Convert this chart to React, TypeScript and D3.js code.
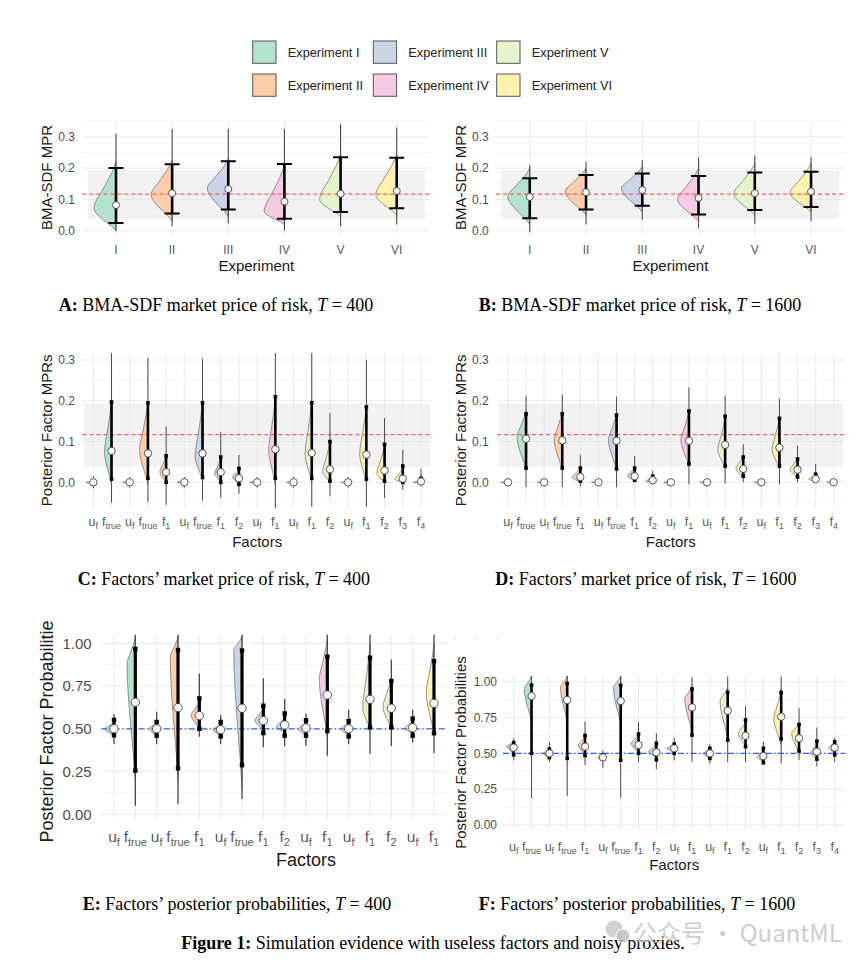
import * as d3 from "d3"
import { useEffect, useRef } from "react"

const pastel2 = ["#B3E2CD", "#FDCDAC", "#CBD5E8", "#F4CAE4", "#E6F5C9", "#FFF2AE"]
const experiments = ["I", "II", "III", "IV", "V", "VI"]
const legendLabels = experiments.map(e => `Experiment ${e}`)
const factorLabels = ["u_f", "f_true", "u_f", "f_true", "f_1", "u_f", "f_true", "f_1", "f_2", "u_f", "f_1", "u_f", "f_1", "f_2", "u_f", "f_1", "f_2", "f_3", "f_4"]
const factorExperiment = [0, 0, 1, 1, 1, 2, 2, 2, 2, 3, 3, 4, 4, 4, 5, 5, 5, 5, 5]
const trueMpr = 0.117
const mprBand = [0.038, 0.194]
const priorProb = 0.5

// [whisker lo, interval lo, median, interval hi, whisker hi]
const sdfStats400 = [
  [0.0, 0.025, 0.082, 0.2, 0.31],
  [0.015, 0.055, 0.12, 0.212, 0.325],
  [0.025, 0.068, 0.133, 0.222, 0.325],
  [0.0, 0.038, 0.093, 0.213, 0.325],
  [0.015, 0.06, 0.118, 0.235, 0.34],
  [0.02, 0.072, 0.127, 0.233, 0.33],
]
// [density bottom, mode, density top, relative peak]
const sdfShape400 = [
  [0.0, 0.072, 0.22, 1.0],
  [0.03, 0.115, 0.225, 0.95],
  [0.045, 0.135, 0.23, 0.95],
  [0.02, 0.062, 0.21, 0.92],
  [0.045, 0.1, 0.245, 0.95],
  [0.05, 0.115, 0.245, 0.95],
]
const sdfStats1600 = [
  [-0.005, 0.04, 0.108, 0.168, 0.21],
  [0.02, 0.068, 0.123, 0.178, 0.22],
  [0.035, 0.08, 0.13, 0.183, 0.225],
  [0.008, 0.052, 0.105, 0.175, 0.235],
  [0.022, 0.066, 0.12, 0.186, 0.24],
  [0.032, 0.076, 0.125, 0.188, 0.235],
]
const sdfShape1600 = [
  [0.02, 0.11, 0.2, 1.0],
  [0.05, 0.125, 0.2, 0.95],
  [0.06, 0.135, 0.205, 0.95],
  [0.03, 0.1, 0.2, 0.95],
  [0.05, 0.118, 0.215, 0.95],
  [0.06, 0.12, 0.215, 0.95],
]

const mprStats400 = [
  [-0.015, 0, 0, 0, 0.015],
  [-0.05, 0.008, 0.077, 0.197, 0.318],
  [-0.013, 0, 0, 0, 0.013],
  [-0.048, 0.01, 0.071, 0.195, 0.305],
  [-0.055, 0.0, 0.025, 0.065, 0.137],
  [-0.013, 0, 0, 0, 0.013],
  [-0.045, 0.012, 0.071, 0.195, 0.303],
  [-0.038, 0.0, 0.025, 0.062, 0.123],
  [-0.028, -0.005, 0.01, 0.034, 0.067],
  [-0.013, 0, 0, 0, 0.013],
  [-0.07, 0.01, 0.081, 0.21, 0.318],
  [-0.013, 0, 0, 0, 0.013],
  [-0.06, 0.01, 0.072, 0.195, 0.318],
  [-0.034, 0.003, 0.032, 0.1, 0.17],
  [-0.013, 0, 0, 0, 0.013],
  [-0.06, 0.008, 0.068, 0.185, 0.3],
  [-0.038, 0.003, 0.029, 0.093, 0.158],
  [-0.018, 0.0, 0.009, 0.04, 0.08],
  [-0.01, 0.0, 0.002, 0.01, 0.033],
]
const mprShape400 = [
  [-0.003, 0, 0.003, 0.85],
  [-0.005, 0.075, 0.2, 0.84],
  [-0.003, 0, 0.003, 0.85],
  [-0.005, 0.08, 0.195, 1.0],
  [0.0, 0.026, 0.065, 0.76],
  [-0.003, 0, 0.003, 0.85],
  [0.005, 0.063, 0.2, 0.88],
  [0.0, 0.022, 0.06, 0.72],
  [-0.003, 0.013, 0.03, 0.8],
  [-0.003, 0, 0.003, 0.85],
  [-0.005, 0.08, 0.21, 0.8],
  [-0.003, 0, 0.003, 0.85],
  [0.0, 0.07, 0.2, 0.8],
  [0.0, 0.026, 0.1, 0.88],
  [-0.003, 0, 0.003, 0.85],
  [0.0, 0.07, 0.19, 0.8],
  [0.0, 0.022, 0.09, 0.93],
  [0.0, 0.007, 0.035, 0.93],
  [-0.003, 0, 0.005, 0.93],
]
const mprStats1600 = [
  [-0.01, 0, 0, 0, 0.01],
  [-0.012, 0.035, 0.107, 0.168, 0.213],
  [-0.01, 0, 0, 0, 0.01],
  [-0.012, 0.035, 0.103, 0.168, 0.215],
  [-0.01, 0.003, 0.013, 0.035, 0.067],
  [-0.01, 0, 0, 0, 0.01],
  [-0.012, 0.033, 0.102, 0.165, 0.21],
  [0.0, 0.005, 0.015, 0.035, 0.065],
  [0.0, 0.0, 0.005, 0.015, 0.028],
  [-0.01, 0, 0, 0, 0.01],
  [-0.005, 0.045, 0.102, 0.175, 0.233],
  [-0.01, 0, 0, 0, 0.01],
  [-0.003, 0.04, 0.092, 0.162, 0.213],
  [0.0, 0.015, 0.033, 0.062, 0.093],
  [-0.01, 0, 0, 0, 0.01],
  [-0.005, 0.04, 0.085, 0.157, 0.205],
  [0.0, 0.013, 0.031, 0.057, 0.09],
  [0.005, 0.005, 0.008, 0.02, 0.045],
  [-0.003, 0, 0, 0, 0.003],
]
const mprShape1600 = [
  [-0.003, 0, 0.003, 0.78],
  [0.03, 0.112, 0.175, 1.0],
  [-0.003, 0, 0.003, 0.78],
  [0.03, 0.104, 0.175, 0.89],
  [0.0, 0.012, 0.035, 0.89],
  [-0.003, 0, 0.003, 0.78],
  [0.03, 0.104, 0.17, 0.89],
  [0.003, 0.016, 0.035, 0.78],
  [0.0, 0.002, 0.015, 0.78],
  [-0.003, 0, 0.003, 0.78],
  [0.04, 0.104, 0.175, 0.89],
  [-0.003, 0, 0.003, 0.78],
  [0.035, 0.08, 0.16, 0.81],
  [0.01, 0.034, 0.065, 0.81],
  [-0.003, 0, 0.003, 0.78],
  [0.035, 0.08, 0.16, 0.81],
  [0.01, 0.032, 0.06, 0.81],
  [0.003, 0.007, 0.02, 0.78],
  [-0.002, 0, 0.003, 0.78],
]

const probStats400 = [
  [0.411, 0.462, 0.5, 0.552, 0.585],
  [0.05, 0.255, 0.655, 0.967, 1.05],
  [0.41, 0.46, 0.5, 0.54, 0.6],
  [0.06, 0.269, 0.624, 0.961, 1.05],
  [0.454, 0.5, 0.577, 0.678, 0.824],
  [0.41, 0.455, 0.495, 0.54, 0.58],
  [0.09, 0.287, 0.62, 0.958, 1.05],
  [0.392, 0.475, 0.548, 0.635, 0.795],
  [0.4, 0.46, 0.522, 0.59, 0.674],
  [0.4, 0.46, 0.505, 0.55, 0.59],
  [0.343, 0.487, 0.698, 0.922, 1.05],
  [0.41, 0.455, 0.5, 0.545, 0.61],
  [0.353, 0.509, 0.672, 0.916, 1.05],
  [0.4, 0.509, 0.62, 0.78, 0.906],
  [0.42, 0.46, 0.506, 0.56, 0.61],
  [0.357, 0.474, 0.649, 0.896, 1.05],
  [0.4, 0.5, 0.6, 0.72, 0.85],
  [0.4, 0.46, 0.52, 0.6, 0.7],
  [0.42, 0.47, 0.52, 0.57, 0.62],
]
const probShape400 = [
  [0.46, 0.5, 0.54, 1.0],
  [0.2, 0.88, 1.04, 0.92],
  [0.46, 0.5, 0.54, 0.86],
  [0.2, 0.92, 1.04, 0.86],
  [0.5, 0.58, 0.66, 0.92],
  [0.46, 0.495, 0.53, 0.86],
  [0.15, 0.96, 1.04, 0.92],
  [0.49, 0.55, 0.62, 0.92],
  [0.48, 0.51, 0.57, 0.92],
  [0.46, 0.5, 0.54, 0.86],
  [0.45, 0.79, 1.03, 0.89],
  [0.46, 0.5, 0.54, 0.86],
  [0.5, 0.62, 1.0, 0.81],
  [0.5, 0.63, 0.8, 0.93],
  [0.47, 0.505, 0.55, 0.86],
  [0.47, 0.71, 1.0, 0.86],
  [0.5, 0.6, 0.75, 0.9],
  [0.47, 0.52, 0.6, 0.9],
  [0.48, 0.52, 0.58, 0.9],
]
const probStats1600 = [
  [0.45, 0.49, 0.54, 0.575, 0.605],
  [0.186, 0.5, 0.9, 0.977, 1.04],
  [0.44, 0.47, 0.5, 0.53, 0.58],
  [0.205, 0.465, 0.872, 0.988, 1.04],
  [0.419, 0.485, 0.547, 0.625, 0.721],
  [0.4, 0.46, 0.472, 0.49, 0.52],
  [0.19, 0.453, 0.865, 0.975, 1.04],
  [0.44, 0.5, 0.558, 0.635, 0.72],
  [0.39, 0.455, 0.507, 0.57, 0.64],
  [0.45, 0.5, 0.535, 0.565, 0.61],
  [0.442, 0.628, 0.821, 0.949, 1.03],
  [0.43, 0.465, 0.5, 0.535, 0.565],
  [0.44, 0.593, 0.798, 0.926, 1.035],
  [0.44, 0.547, 0.623, 0.733, 0.83],
  [0.42, 0.435, 0.481, 0.535, 0.58],
  [0.43, 0.6, 0.756, 0.925, 1.035],
  [0.453, 0.516, 0.605, 0.702, 0.814],
  [0.41, 0.46, 0.512, 0.585, 0.68],
  [0.44, 0.49, 0.54, 0.58, 0.61],
]
const probShape1600 = [
  [0.5, 0.55, 0.58, 0.87],
  [0.72, 0.95, 1.04, 0.95],
  [0.47, 0.5, 0.53, 0.78],
  [0.72, 0.96, 1.04, 0.87],
  [0.49, 0.555, 0.62, 0.87],
  [0.455, 0.47, 0.49, 0.65],
  [0.7, 0.96, 1.04, 0.95],
  [0.5, 0.57, 0.63, 0.95],
  [0.47, 0.51, 0.57, 1.0],
  [0.51, 0.535, 0.56, 1.0],
  [0.65, 0.88, 0.97, 0.95],
  [0.47, 0.5, 0.53, 0.87],
  [0.6, 0.87, 0.96, 1.0],
  [0.55, 0.64, 0.72, 0.95],
  [0.44, 0.475, 0.53, 0.78],
  [0.56, 0.74, 0.95, 0.95],
  [0.5, 0.64, 0.71, 0.95],
  [0.47, 0.5, 0.57, 0.87],
  [0.5, 0.54, 0.58, 0.78],
]

const SANS = "Liberation Sans, Arial, Helvetica, sans-serif"
const SERIF = "Liberation Serif, Times New Roman, serif"

interface Panel {
  id: string
  labels: string[]
  groups: number[]
  stats: number[][]
  shapes: number[][]
  x0: number
  x1: number
  yDomain: [number, number]
  yRange: [number, number]
  yTicks: number[]
  yMinor: number[]
  fmt: string
  refValue: number
  refKind: "red" | "blue"
  band: boolean
  maxW: number
  capStyle: boolean
  tickSize: number
  subSize: number
  titleSize: number
  yTickX: number
  yTitleX: number
  xTickDy: number
  xTitleDy: number
  r: number
  barW: number
  sq: number
  thinW: number
  xTitle: string
  yTitle: string
  outerClip?: string
  visibleRight?: number
}

const baseA = {
  labels: experiments, groups: d3.range(6), yDomain: [-0.014, 0.354] as [number, number],
  yRange: [235.1, 119.9] as [number, number], yTicks: [0, 0.1, 0.2, 0.3], yMinor: [0.05, 0.15, 0.25, 0.35],
  fmt: ".1f", refValue: trueMpr, refKind: "red" as const, band: true, maxW: 22, capStyle: true,
  tickSize: 12, subSize: 0, titleSize: 15, xTickDy: 18.5, xTitleDy: 36, r: 3.5, barW: 2.6, sq: 0, thinW: 1.1,
  xTitle: "Experiment", yTitle: "BMA-SDF MPR",
}
const baseC = {
  labels: factorLabels, groups: factorExperiment, yDomain: [-0.063, 0.318] as [number, number],
  yRange: [508, 352.7] as [number, number], yTicks: [0, 0.1, 0.2, 0.3], yMinor: [-0.05, 0.05, 0.15, 0.25],
  fmt: ".1f", refValue: trueMpr, refKind: "red" as const, band: true, maxW: 8.3, capStyle: false,
  tickSize: 12.5, subSize: 9, titleSize: 15, xTickDy: 17.5, xTitleDy: 38.5, r: 3.7, barW: 2.6, sq: 3.6, thinW: 1,
  xTitle: "Factors", yTitle: "Posterior Factor MPRs",
}

const panels: Panel[] = [
  { ...baseA, id: "A", stats: sdfStats400, shapes: sdfShape400, x0: 82.3, x1: 430.4, yTickX: 75, yTitleX: 47 },
  { ...baseA, id: "B", stats: sdfStats1600, shapes: sdfShape1600, x0: 496, x1: 844.8, yTickX: 488.7, yTitleX: 460.3 },
  { ...baseC, id: "C", stats: mprStats400, shapes: mprShape400, x0: 82.4, x1: 431.9, yTickX: 75, yTitleX: 47 },
  { ...baseC, id: "D", stats: mprStats1600, shapes: mprShape1600, x0: 497.1, x1: 844.6, maxW: 9, yTickX: 488.7, yTitleX: 460.3 },
  {
    id: "E", labels: factorLabels, groups: factorExperiment, stats: probStats400, shapes: probShape400,
    x0: 101.2, x1: 510.8, yDomain: [-0.033, 1.054], yRange: [819.9, 634.1],
    yTicks: [0, 0.25, 0.5, 0.75, 1], yMinor: [0.125, 0.375, 0.625, 0.875], fmt: ".2f",
    refValue: priorProb, refKind: "blue", band: false, maxW: 9, capStyle: false,
    tickSize: 15.5, subSize: 11, titleSize: 18, yTickX: 91.7, yTitleX: 47, xTickDy: 22, xTitleDy: 46.5,
    r: 4.2, barW: 3.2, sq: 4.4, thinW: 1.3, xTitle: "Factors", yTitle: "Posterior Factor Probabilities",
    outerClip: "clipE", visibleRight: 446,
  },
  {
    id: "F", labels: factorLabels, groups: factorExperiment, stats: probStats1600, shapes: probShape1600,
    x0: 503, x1: 845.4, yDomain: [-0.035, 1.047], yRange: [830, 675],
    yTicks: [0, 0.25, 0.5, 0.75, 1], yMinor: [0.125, 0.375, 0.625, 0.875], fmt: ".2f",
    refValue: priorProb, refKind: "blue", band: false, maxW: 7.7, capStyle: false,
    tickSize: 12.5, subSize: 9, titleSize: 15, yTickX: 497, yTitleX: 460.3, xTickDy: 21, xTitleDy: 39.5,
    r: 3.7, barW: 2.6, sq: 3.6, thinW: 1, xTitle: "Factors", yTitle: "Posterior Factor Probabilities",
  },
]

const captions = [
  { tag: "A:", text: " BMA-SDF market price of risk, ", n: "400", x: 216, y: 311 },
  { tag: "B:", text: " BMA-SDF market price of risk, ", n: "1600", x: 640, y: 311 },
  { tag: "C:", text: " Factors\u2019 market price of risk, ", n: "400", x: 224, y: 585 },
  { tag: "D:", text: " Factors\u2019 market price of risk, ", n: "1600", x: 646, y: 585 },
  { tag: "E:", text: " Factors\u2019 posterior probabilities, ", n: "400", x: 237, y: 910 },
  { tag: "F:", text: " Factors\u2019 posterior probabilities, ", n: "1600", x: 637, y: 910 },
]

type Sel = d3.Selection<SVGSVGElement, unknown, null, undefined>

function drawPanel(svg: Sel, p: Panel) {
  const n = p.labels.length
  const x = d3.scalePoint<number>().domain(d3.range(n)).range([p.x0, p.x1]).padding(0.6)
  const step = x.step()
  const y = d3.scaleLinear().domain(p.yDomain).range(p.yRange)
  const [yb, yt] = p.yRange
  const cx = (i: number) => x(i) as number

  const g = svg.append("g")
  if (p.outerClip) g.attr("clip-path", `url(#${p.outerClip})`)

  const clipId = `plot-${p.id}`
  svg.select("defs").append("clipPath").attr("id", clipId)
    .append("rect").attr("x", p.x0).attr("y", yt).attr("width", p.x1 - p.x0).attr("height", yb - yt)

  // grid
  g.selectAll(".minor").data(p.yMinor).join("line")
    .attr("x1", p.x0).attr("x2", p.x1).attr("y1", d => y(d)).attr("y2", d => y(d))
    .attr("stroke", "#f2f2f2").attr("stroke-width", 0.7)
  g.selectAll(".major").data(p.yTicks).join("line")
    .attr("x1", p.x0).attr("x2", p.x1).attr("y1", d => y(d)).attr("y2", d => y(d))
    .attr("stroke", "#ebebeb").attr("stroke-width", 1.1)
  g.selectAll(".vgrid").data(d3.range(n)).join("line")
    .attr("x1", cx).attr("x2", cx).attr("y1", yb).attr("y2", yt)
    .attr("stroke", "#ebebeb").attr("stroke-width", 1.1)

  if (p.band) {
    g.append("rect")
      .attr("x", cx(0) - step / 2).attr("width", cx(n - 1) - cx(0) + step)
      .attr("y", y(mprBand[1])).attr("height", y(mprBand[0]) - y(mprBand[1]))
      .attr("fill", "#e6e6e6").attr("opacity", 0.5)
  }

  const plot = g.append("g").attr("clip-path", `url(#${clipId})`)

  // half violins on the left of each category
  const line = d3.line<[number, number]>().x(d => d[0]).y(d => d[1]).curve(d3.curveMonotoneY)
  plot.selectAll(".violin").data(p.shapes).join("path")
    .attr("d", (s, i) => {
      const [b, m, t, peak] = s
      const w = peak * p.maxW
      const c = cx(i)
      const pts: [number, number][] = [
        [c, y(t)],
        [c - 0.2 * w, y(m + 0.75 * (t - m))],
        [c - 0.6 * w, y(m + 0.4 * (t - m))],
        [c - w, y(m)],
        [c - 0.6 * w, y(b + 0.5 * (m - b))],
        [c - 0.2 * w, y(b + 0.2 * (m - b))],
        [c, y(b)],
      ]
      return line(pts) + "Z"
    })
    .attr("fill", (_s, i) => pastel2[p.groups[i]])
    .attr("stroke", "#555").attr("stroke-width", 0.6)

  // reference line
  const ref = plot.append("line")
    .attr("x1", p.x0).attr("x2", p.x1).attr("y1", y(p.refValue)).attr("y2", y(p.refValue))
  if (p.refKind === "red") {
    ref.attr("stroke", "#ff5a5a").attr("stroke-width", 1.2).attr("stroke-dasharray", "4,3")
  } else {
    ref.attr("stroke", "#2a62ff").attr("stroke-width", 1.2).attr("stroke-dasharray", "6,2.5,1.5,2.5")
  }

  // whiskers
  plot.selectAll(".thin").data(p.stats).join("line")
    .attr("x1", (_d, i) => cx(i)).attr("x2", (_d, i) => cx(i))
    .attr("y1", d => y(d[0])).attr("y2", d => y(d[4]))
    .attr("stroke", "#4a4a4a").attr("stroke-width", p.thinW)

  // intervals
  plot.selectAll(".thick").data(p.stats).join("line")
    .attr("x1", (_d, i) => cx(i)).attr("x2", (_d, i) => cx(i))
    .attr("y1", d => y(d[1])).attr("y2", d => y(d[3]))
    .attr("stroke", "#000").attr("stroke-width", p.barW)

  if (p.capStyle) {
    const caps = p.stats.flatMap((d, i) => [{ i, v: d[1] }, { i, v: d[3] }])
    plot.selectAll(".cap").data(caps).join("line")
      .attr("x1", d => cx(d.i) - 7.5).attr("x2", d => cx(d.i) + 7.5)
      .attr("y1", d => y(d.v)).attr("y2", d => y(d.v))
      .attr("stroke", "#000").attr("stroke-width", 2)
  } else {
    const ends = p.stats.flatMap((d, i) => (d[1] === d[3] ? [] : [{ i, v: d[1] }, { i, v: d[3] }]))
    plot.selectAll(".end").data(ends).join("rect")
      .attr("x", d => cx(d.i) - p.sq / 2).attr("y", d => y(d.v) - p.sq / 2)
      .attr("width", p.sq).attr("height", p.sq).attr("fill", "#000")
  }

  plot.selectAll(".med").data(p.stats).join("circle")
    .attr("cx", (_d, i) => cx(i)).attr("cy", d => y(d[2])).attr("r", p.r)
    .attr("fill", "#fff").attr("stroke", "#333").attr("stroke-width", 0.8)

  // y axis labels
  g.selectAll(".ytick").data(p.yTicks).join("text")
    .attr("x", p.yTickX).attr("y", d => y(d)).attr("dy", "0.35em")
    .attr("text-anchor", "end").attr("font-family", SANS).attr("font-size", p.tickSize - (p.subSize ? 0.5 : 0))
    .attr("fill", "#4d4d4d").text(d => d3.format(p.fmt)(d))

  // x axis labels (with subscripts); labels under the covering panel are not drawn
  const shown = d3.range(n).filter(i => p.visibleRight === undefined || cx(i) < p.visibleRight)
  const xl = g.selectAll(".xtick").data(shown).join("text")
    .attr("x", i => cx(i)).attr("y", yb + p.xTickDy)
    .attr("text-anchor", "middle").attr("font-family", SANS).attr("font-size", p.tickSize)
    .attr("fill", "#5a5a5a")
  xl.each(function (i) {
    const t = d3.select(this)
    const [base, sub] = p.labels[i].split("_")
    t.append("tspan").text(base)
    if (sub) {
      t.append("tspan").attr("dy", p.subSize * 0.38).attr("font-size", p.subSize).text(sub)
    }
  })

  g.append("text")
    .attr("x", (p.x0 + p.x1) / 2).attr("y", yb + p.xTitleDy)
    .attr("text-anchor", "middle").attr("font-family", SANS).attr("font-size", p.titleSize)
    .attr("fill", "#1a1a1a").text(p.xTitle)

  g.append("text")
    .attr("transform", `translate(${p.yTitleX},${(yb + yt) / 2}) rotate(-90)`)
    .attr("dy", "0.35em").attr("text-anchor", "middle").attr("font-family", SANS)
    .attr("font-size", p.titleSize).attr("fill", "#1a1a1a").text(p.yTitle)
}

const App = () => {
  const svgRef = useRef<SVGSVGElement | null>(null)

  useEffect(() => {
    if (!svgRef.current) return
    document.body.style.margin = "0"
    const svg = d3.select(svgRef.current)
    svg.selectAll("*").remove()
    svg.append("rect").attr("width", 864).attr("height", 966).attr("fill", "#fff")

    const defs = svg.append("defs")
    // panel E is partly covered by panel F in the figure
    const ce = defs.append("clipPath").attr("id", "clipE")
    ce.append("rect").attr("x", 0).attr("y", 621).attr("width", 446).attr("height", 260)
    ce.append("rect").attr("x", 446).attr("y", 621).attr("width", 80).attr("height", 20)

    // legend
    const leg = svg.append("g").selectAll("g").data(legendLabels).join("g")
      .attr("transform", (_d, i) => `translate(${[252.7, 373.3, 496.7][Math.floor(i / 2)]},${i % 2 ? 74 : 41})`)
    leg.append("rect").attr("width", 23.3).attr("height", 22.3)
      .attr("fill", (_d, i) => pastel2[i]).attr("stroke", "#555").attr("stroke-width", 1)
    leg.append("text").attr("x", 35).attr("y", 11.2).attr("dy", "0.35em")
      .attr("font-family", SANS).attr("font-size", 12.8).attr("fill", "#222").text(d => d)

    panels.forEach(p => drawPanel(svg, p))

    // captions
    const cap = svg.append("g").selectAll("text").data(captions).join("text")
      .attr("x", d => d.x).attr("y", d => d.y).attr("text-anchor", "middle")
      .attr("font-family", SERIF).attr("font-size", 18).attr("fill", "#000")
      .style("white-space", "pre")
    cap.append("tspan").attr("font-weight", "bold").text(d => d.tag)
    cap.append("tspan").text(d => d.text)
    cap.append("tspan").attr("font-style", "italic").text("T")
    cap.append("tspan").text(d => ` = ${d.n}`)

    const fig = svg.append("text").attr("x", 433).attr("y", 949).attr("text-anchor", "middle")
      .attr("font-family", SERIF).attr("font-size", 18).style("white-space", "pre")
    fig.append("tspan").attr("font-weight", "bold").text("Figure 1:")
    fig.append("tspan").text(" Simulation evidence with useless factors and noisy proxies.")

    // watermark
    const wm = svg.append("g").attr("opacity", 0.75)
    wm.append("circle").attr("cx", 614).attr("cy", 929).attr("r", 8.5).attr("fill", "#c4c4c4")
    wm.append("circle").attr("cx", 623).attr("cy", 936).attr("r", 7).attr("fill", "#b8b8b8")
      .attr("stroke", "#fff").attr("stroke-width", 1)
    wm.append("text").attr("x", 633).attr("y", 942)
      .attr("font-family", "Noto Sans CJK SC, Noto Sans, sans-serif").attr("font-size", 24)
      .attr("fill", "#bdbdbd").text("公众号 · QuantML")
  }, [])

  return <svg ref={svgRef} width={864} height={966} style={{ display: "block" }} />
}

export default App
